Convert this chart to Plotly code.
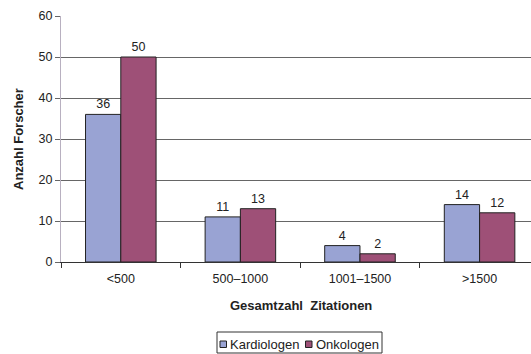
import plotly.graph_objects as go

categories = ["<500", "500–1000", "1001–1500", ">1500"]
kardiologen = [36, 11, 4, 14]
onkologen = [50, 13, 2, 12]

y_ticks = [0, 10, 20, 30, 40, 50, 60]

FONT = "Liberation Sans, Arial, sans-serif"
COLOR_K = "#99A3D3"
COLOR_O = "#9E5077"
EDGE = "#222222"

# plot area in pixels
W, H = 531, 354
L, T, B = 61, 16, 92
PW, PH = W - L, H - T - B


def px(xp):
    return (xp - L) / PW


def py(yp):
    return (H - B - yp) / PH


fig = go.Figure()
for name, vals, col in [("Kardiologen", kardiologen, COLOR_K), ("Onkologen", onkologen, COLOR_O)]:
    fig.add_trace(go.Bar(
        name=name, x=categories, y=vals,
        marker=dict(color=col, line=dict(color=EDGE, width=1)),
        text=[str(v) for v in vals], textposition="outside",
        textfont=dict(size=12.5, color="#222222", family=FONT), cliponaxis=False,
        showlegend=False,
    ))

shapes = [
    # legend frame
    dict(type="rect", xref="paper", yref="paper", x0=px(217), x1=px(382), y0=py(332), y1=py(353),
         line=dict(color="#333333", width=1), fillcolor="white", layer="above"),
    # legend swatches
    dict(type="rect", xref="paper", yref="paper", x0=px(220), x1=px(226.5), y0=py(341), y1=py(347.5),
         line=dict(color=EDGE, width=1), fillcolor=COLOR_K, layer="above"),
    dict(type="rect", xref="paper", yref="paper", x0=px(305.5), x1=px(312), y0=py(341), y1=py(347.5),
         line=dict(color=EDGE, width=1), fillcolor=COLOR_O, layer="above"),
]

annotations = [
    dict(text="<b>Anzahl Forscher</b>", x=px(18), xref="paper", xanchor="center",
         y=0.5, yref="paper", yanchor="middle", textangle=-90, showarrow=False,
         font=dict(size=13, family=FONT)),
    dict(text="<b>Gesamtzahl  Zitationen</b>", x=px(301), xref="paper", xanchor="center",
         y=py(305), yref="paper", yanchor="middle", showarrow=False,
         font=dict(size=13, family=FONT)),
    dict(text="Kardiologen", x=px(228), xref="paper", xanchor="left",
         y=py(344), yref="paper", yanchor="middle", showarrow=False,
         font=dict(size=13, family=FONT)),
    dict(text="Onkologen", x=px(314), xref="paper", xanchor="left",
         y=py(344), yref="paper", yanchor="middle", showarrow=False,
         font=dict(size=13, family=FONT)),
]

fig.update_layout(
    width=W, height=H,
    margin=dict(l=L, r=0, t=T, b=B, autoexpand=False),
    paper_bgcolor="white", plot_bgcolor="white",
    barmode="group", bargap=0.41, bargroupgap=0,
    font=dict(family=FONT, size=12.5, color="#222222"),
    showlegend=False,
    xaxis=dict(
        range=[-0.5, 3.43], showgrid=False, showline=True,
        linecolor="#333333", linewidth=1, ticks="outside", tickson="boundaries",
        ticklen=5, tickcolor="#333333", tickfont=dict(size=12.5),
        ticklabelstandoff=5,
    ),
    yaxis=dict(
        range=[0, 60], tickvals=y_ticks, showgrid=True, gridcolor="#666666",
        gridwidth=1, showline=True, linecolor="#B8B0C0", linewidth=1,
        ticks="outside", ticklen=5, tickcolor="#666666", tickfont=dict(size=12.5),
        zeroline=False,
    ),
    shapes=shapes,
    annotations=annotations,
)

fig.write_html("out.html")
